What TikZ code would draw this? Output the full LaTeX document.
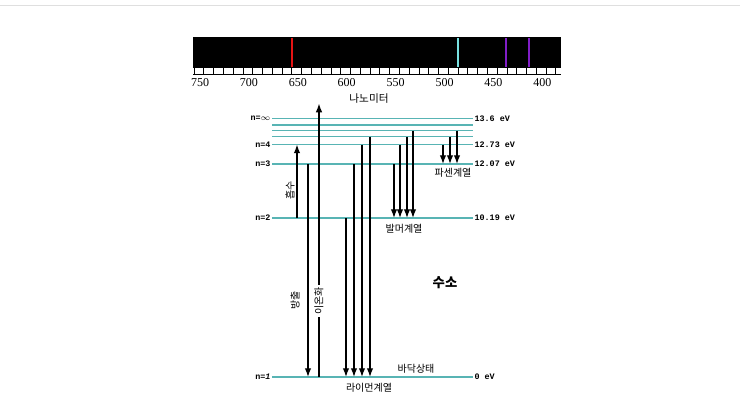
\documentclass[tikz,border=0pt]{standalone}
\usepackage{fontspec}
\setmainfont{Liberation Serif}
\setmonofont{Liberation Mono}
\newfontfamily\kr{Noto Sans CJK KR}
\usetikzlibrary{arrows.meta}
\definecolor{lvl}{RGB}{88,180,180}
\definecolor{hred}{RGB}{230,20,20}
\definecolor{hcyan}{RGB}{120,225,225}
\definecolor{hviol}{RGB}{130,30,200}
\begin{document}
\begin{tikzpicture}[x=0.75pt,y=-0.75pt,
  level/.style={draw=lvl,line width=0.9pt},
  arr/.style={line width=0.9pt,-{Latex[length=6.5pt,width=4.8pt]}},
  ionarr/.style={line width=1.5pt,-{Latex[length=7pt,width=5pt]}},
  nlab/.style={anchor=east,font=\ttfamily\bfseries\fontsize{6.3}{7}\selectfont,inner sep=1pt},
  elab/.style={anchor=west,font=\ttfamily\bfseries\fontsize{6.3}{7}\selectfont,inner sep=1pt},
  krlab/.style={font=\kr\fontsize{7.5}{8}\selectfont,inner sep=0.5pt},
  numlab/.style={font=\fontsize{9}{10}\selectfont,inner sep=0pt}]
\useasboundingbox (0,0) rectangle (740,415);
\draw[gray!25,line width=0.75pt] (0,5) -- (740,5);
% spectrum
\fill[black] (193,37) rectangle (561,68);
\draw[hred,line width=1.5pt] (292,38) -- (292,67);
\draw[hcyan,line width=1.2pt] (458,38) -- (458,67);
\draw[hviol,line width=1.2pt] (506,38) -- (506,67);
\draw[hviol,line width=1.2pt] (529,38) -- (529,67);
\draw[black,line width=0.6pt] (193,74) -- (561,74);
\foreach \i in {0,...,37} \draw[black,line width=0.6pt] (194+9.78*\i,68) -- (194+9.78*\i,75);
\foreach \v [count=\k from 0] in {750,700,650,600,550,500,450,400}
  \node[numlab] (t\v) at (200+48.9*\k,83) {\v};
\node[krlab,font=\kr\fontsize{8}{9}\selectfont] (nm) at (369,99) {나노미터};
% levels
\foreach \nm/\yy in {L1/377,L2/218,L3/164,L4/144.5,L5/136.7,L6/130.7,L7/125,Linf/118.3}{
  \coordinate (\nm a) at (272,\yy);
  \coordinate (\nm b) at (473,\yy);
  \draw[level] (\nm a) -- (\nm b);
}
\node[nlab] (ninf) at (Linfa) {n=$\infty$};
\node[nlab] (n4) at (L4a) {n=4};
\node[nlab] (n3) at (L3a) {n=3};
\node[nlab] (n2) at (L2a) {n=2};
\node[nlab] (n1) at (L1a) {n=\textit{1}};
\node[elab] (e1) at (Linfb) {13.6 eV};
\node[elab] (e2) at (L4b) {12.73 eV};
\node[elab] (e3) at (L3b) {12.07 eV};
\node[elab] (e4) at (L2b) {10.19 eV};
\node[elab] (e5) at (L1b) {0 eV};
% arrow end coordinates
\foreach \x/\nm in {297/L2,297/L4,308/L3,308/L1,319/L1,
  346/L2,346/L1,354/L3,354/L1,362/L4,362/L1,370/L5,370/L1,
  394/L3,394/L2,400/L4,400/L2,407/L5,407/L2,413/L6,413/L2,
  443/L4,443/L3,450/L5,450/L3,457/L6,457/L3}
  \coordinate (p\x\nm) at (\x,0 |- \nm a);
\coordinate (iontop) at (319,103);
% absorption / emission
\draw[arr] (p297L2) -- (p297L4);
\draw[arr] (p308L3) -- (p308L1);
\draw[ionarr] (p319L1) -- (iontop);
\node[krlab,rotate=90,fill=white,inner sep=1.5pt] (ion) at (319,301) {이온화};
\node[krlab,rotate=90] (abs) at (290,190) {흡수};
\node[krlab,rotate=90] (emi) at (295,300) {방출};
% Lyman
\draw[arr] (p346L2) -- (p346L1);
\draw[arr] (p354L3) -- (p354L1);
\draw[arr] (p362L4) -- (p362L1);
\draw[arr] (p370L5) -- (p370L1);
% Balmer
\draw[arr] (p394L3) -- (p394L2);
\draw[arr] (p400L4) -- (p400L2);
\draw[arr] (p407L5) -- (p407L2);
\draw[arr] (p413L6) -- (p413L2);
% Paschen
\draw[arr] (p443L4) -- (p443L3);
\draw[arr] (p450L5) -- (p450L3);
\draw[arr] (p457L6) -- (p457L3);
% labels
\node[krlab] (lyman) at (369,388) {라이먼계열};
\node[krlab] (ground) at (416,369) {바닥상태};
\node[krlab] (balmer) at (404,229) {발머계열};
\node[krlab] (paschen) at (453,173) {파센계열};
\node[krlab,font=\kr\bfseries\fontsize{10}{11}\selectfont] (h) at (445,283) {수소};
\end{tikzpicture}
\end{document}
